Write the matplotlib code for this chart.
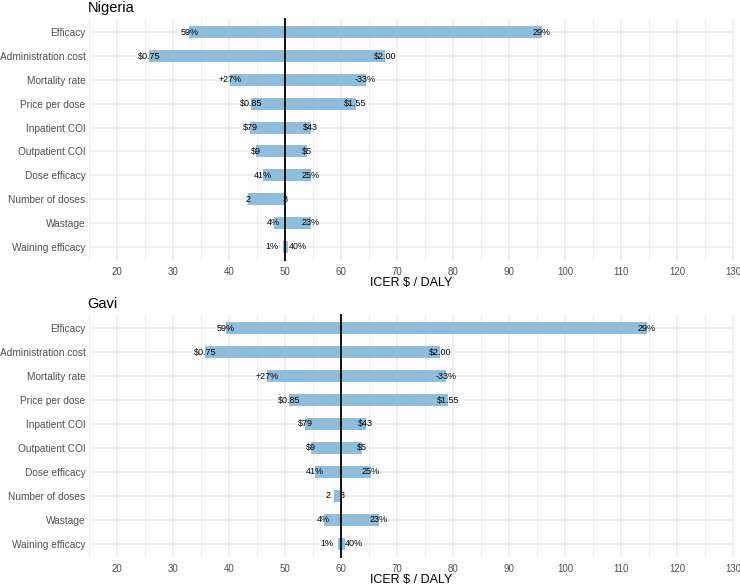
import numpy as np
import matplotlib
matplotlib.use("Agg")
import matplotlib.pyplot as plt

plt.rcParams['font.family'] = ['Liberation Sans', 'DejaVu Sans']

params = ['Efficacy', 'Administration cost', 'Mortality rate', 'Price per dose',
          'Inpatient COI', 'Outpatient COI', 'Dose efficacy', 'Number of doses',
          'Wastage', 'Waining efficacy']
low_labels = ['59%', '$0.75', '+27%', '$0.85', '$79', '$9', '41%', '2', '4%', '1%']
high_labels = ['29%', '$2.00', '-33%', '$1.55', '$43', '$5', '25%', '3', '23%', '40%']

nigeria_base = 50
nigeria_low = [32.9, 25.7, 40.2, 44.0, 43.8, 44.8, 46.1, 43.4, 48.0, 49.6]
nigeria_high = [95.9, 67.9, 64.4, 62.6, 54.6, 53.9, 54.6, 50.0, 54.6, 50.6]

gavi_base = 60
gavi_low = [39.5, 35.7, 46.8, 50.7, 53.6, 54.7, 55.3, 58.8, 56.9, 59.4]
gavi_high = [114.6, 77.7, 78.8, 79.1, 64.4, 63.7, 65.3, 59.8, 66.8, 60.7]

bar_col = '#8fbedd'
grid_col = '#ebebeb'


def tornado(fig, ax, title, base, lows, highs):
    y = np.arange(len(params))
    lo = np.array(lows)
    hi = np.array(highs)
    ax.barh(y, hi - lo, left=lo, height=0.5, color=bar_col, zorder=2)
    ax.axvline(base, color='black', lw=1.3, zorder=3)

    ax.set_xlim(15, 130.2)
    ax.set_ylim(len(params) - 0.4, -0.6)
    ax.set_yticks(y)
    ax.set_yticklabels(params)
    ax.set_xticks(np.arange(20, 131, 10))
    ax.set_xticks(np.arange(15, 131, 10), minor=True)
    ax.grid(True, which='major', color=grid_col, lw=1.1, zorder=0)
    ax.grid(True, which='minor', axis='x', color=grid_col, lw=0.6, zorder=0)
    ax.tick_params(length=0, which='both', colors='#4d4d4d')
    ax.tick_params(axis='y', labelsize=7.3, pad=2.5)
    ax.tick_params(axis='x', labelsize=7, pad=4)
    for s in ax.spines.values():
        s.set_visible(False)
    ax.set_xlabel('ICER $ / DALY', fontsize=9, labelpad=0.5)
    ax.set_title(title, loc='left', fontsize=10.5, x=-0.002, pad=4)

    # labels at bar ends; push apart when they would overlap
    fig.canvas.draw()
    px_per_unit = ax.transData.transform((1, 0))[0] - ax.transData.transform((0, 0))[0]
    for i in range(len(params)):
        t1 = ax.text(lo[i], y[i], low_labels[i], ha='center', va='center', fontsize=6.5, zorder=4)
        t2 = ax.text(hi[i], y[i], high_labels[i], ha='center', va='center', fontsize=6.5, zorder=4)
        w1 = t1.get_window_extent().width / px_per_unit
        w2 = t2.get_window_extent().width / px_per_unit
        if (hi[i] - lo[i]) < (w1 + w2) / 2 + 1.0:
            t1.set_x(lo[i] - 0.7)
            t1.set_ha('right')
            t2.set_x(hi[i])
            t2.set_ha('left')


fig = plt.figure(figsize=(7.4, 5.87), dpi=100)
ax1 = fig.add_axes([0.1203, 0.5554, 0.8716, 0.4139])
ax2 = fig.add_axes([0.1203, 0.049, 0.8716, 0.4166])

tornado(fig, ax1, 'Nigeria', nigeria_base, nigeria_low, nigeria_high)
tornado(fig, ax2, 'Gavi', gavi_base, gavi_low, gavi_high)

fig.savefig('out.png', dpi=100)
